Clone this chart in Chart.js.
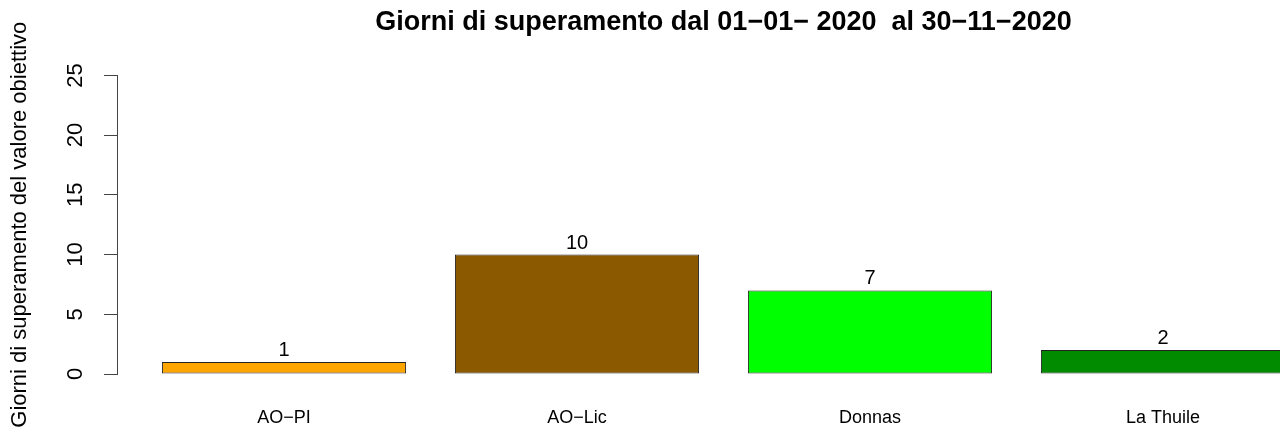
<!DOCTYPE html>
<html>
<head>
<meta charset="utf-8">
<script src="https://cdn.jsdelivr.net/npm/chart.js@4"></script>
<style>
    html, body { margin: 0; padding: 0; overflow: hidden; background: #ffffff; }
    #wrap { position: relative; width: 1448px; height: 434px; }
</style>
</head>
<body>
<div id="wrap"><canvas id="barChart"></canvas></div>
<script>
// Stations and days above the target value
const categories = ['AO\u2212PI', 'AO\u2212Lic', 'Donnas', 'La Thuile'];
const giorni = [1, 10, 7, 2];
const barColors = ['#FFA500', '#8B5A00', '#00FF00', '#008B00'];
const yTicks = [0, 5, 10, 15, 20, 25];

const titleText = 'Giorni di superamento dal 01\u221201\u2212 2020  al 30\u221211\u22122020';
const yTitle = 'Giorni di superamento del valore obiettivo';

// barplot-style layout: bar width 1, gap 0.2, axis range padded by 4%
const space = 0.2;
const centre = i => space + 0.5 + i * (1 + space);
const xLo = space;
const xHi = categories.length * (1 + space);
const xPad = (xHi - xLo) * 0.04;

const fontFamily = '"Liberation Sans", Arial, Helvetica, sans-serif';

// draws the value above each bar
const valueLabels = {
    id: 'valueLabels',
    afterDatasetsDraw(chart) {
        const ctx = chart.ctx;
        const meta = chart.getDatasetMeta(0);
        ctx.save();
        ctx.font = '20px ' + fontFamily;
        ctx.fillStyle = '#000000';
        ctx.textAlign = 'center';
        ctx.textBaseline = 'alphabetic';
        meta.data.forEach((bar, i) => {
            ctx.fillText(String(giorni[i]), bar.x, bar.y - 6);
        });
        ctx.restore();
    }
};

const ctx = document.getElementById('barChart').getContext('2d');
new Chart(ctx, {
    type: 'bar',
    data: {
        datasets: [{
            data: giorni.map((v, i) => ({ x: centre(i), y: v })),
            backgroundColor: barColors,
            borderColor: '#222222',
            borderWidth: 1,
            borderSkipped: false,
            categoryPercentage: 1,
            barPercentage: 1 / (1 + space)
        }]
    },
    options: {
        responsive: true,
        maintainAspectRatio: false,
        animation: false,
        // right padding: the original plot runs past the picture's edge
        layout: { padding: { left: 0, right: 118, top: 0, bottom: 0 } },
        plugins: {
            legend: { display: false },
            tooltip: { enabled: false },
            title: {
                display: true,
                fullSize: false,
                text: titleText,
                color: '#000000',
                font: { family: fontFamily, size: 27, weight: 'bold' },
                padding: { top: 6, bottom: 37 }
            }
        },
        scales: {
            x: {
                type: 'linear',
                offset: false,
                min: xLo - xPad,
                max: xHi + xPad,
                grid: { display: false, drawTicks: false, offset: false },
                border: { display: false },
                afterBuildTicks: scale => {
                    scale.ticks = categories.map((c, i) => ({ value: centre(i) }));
                },
                afterFit: scale => { scale.height = 60; },
                ticks: {
                    autoSkip: false,
                    maxRotation: 0,
                    padding: 33,
                    color: '#000000',
                    font: { family: fontFamily, size: 18 },
                    callback: (value, index) => categories[index]
                }
            },
            y: {
                min: 0,
                max: 25,
                afterBuildTicks: scale => {
                    scale.ticks = yTicks.map(v => ({ value: v }));
                },
                afterFit: scale => { scale.width = 117; },
                grid: {
                    drawOnChartArea: false,
                    drawTicks: true,
                    tickLength: 13,
                    color: '#444444'
                },
                border: { display: true, color: '#444444', width: 1 },
                ticks: {
                    minRotation: 90,
                    maxRotation: 90,
                    crossAlign: 'center',
                    padding: 16,
                    color: '#000000',
                    font: { family: fontFamily, size: 22 }
                },
                title: {
                    display: true,
                    text: yTitle,
                    color: '#000000',
                    font: { family: fontFamily, size: 22 },
                    padding: { top: 7, bottom: 0 }
                }
            }
        }
    },
    plugins: [valueLabels]
});
</script>
</body>
</html>
